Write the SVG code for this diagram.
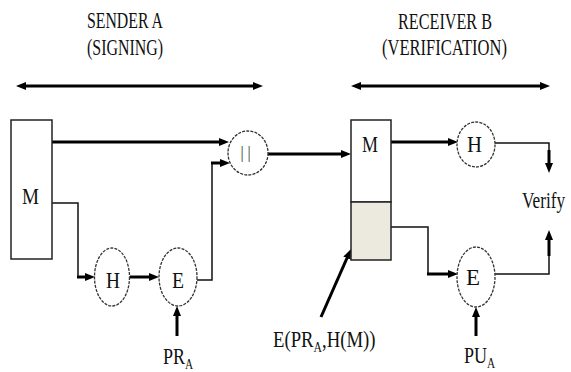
<svg xmlns="http://www.w3.org/2000/svg" width="571" height="372" viewBox="0 0 571 372">
<style>
.t{font-family:"Liberation Serif","Times New Roman",serif;font-size:24px;fill:#111;}
.box{fill:#fff;stroke:#222;stroke-width:1.5;}
.ell{fill:#fff;stroke:#333;stroke-width:1.3;stroke-dasharray:3 1.2;}
.thin{fill:none;stroke:#111;stroke-width:1.5;}
.thick{fill:none;stroke:#000;stroke-width:3;marker-end:url(#ah);}
</style>
<defs>
<marker id="ah" viewBox="0 0 10 8" markerWidth="10" markerHeight="8" refX="4" refY="4" orient="auto" markerUnits="userSpaceOnUse">
<path d="M0,0 L10,4 L0,8 z" fill="#000"/>
</marker>
<marker id="ahs" viewBox="0 0 10 8" markerWidth="10" markerHeight="8" refX="4" refY="4" orient="auto-start-reverse" markerUnits="userSpaceOnUse">
<path d="M0,0 L10,4 L0,8 z" fill="#000"/>
</marker>
</defs>
<rect width="571" height="372" fill="#fff"/>

<g id="headers">
<text class="t" x="87" y="28" textLength="76" lengthAdjust="spacingAndGlyphs">SENDER A</text>
<text class="t" x="87" y="55" textLength="76" lengthAdjust="spacingAndGlyphs">(SIGNING)</text>
<text class="t" x="398" y="29" textLength="94" lengthAdjust="spacingAndGlyphs">RECEIVER B</text>
<text class="t" x="382" y="55" textLength="125" lengthAdjust="spacingAndGlyphs">(VERIFICATION)</text>
</g>

<g id="connectors">
<line x1="22" y1="86" x2="257" y2="86" stroke="#000" stroke-width="3" marker-start="url(#ahs)" marker-end="url(#ahs)"/>
<line x1="357" y1="86" x2="544" y2="86" stroke="#000" stroke-width="3" marker-start="url(#ahs)" marker-end="url(#ahs)"/>
<path class="thick" d="M52,142 H223"/>
<path class="thin" d="M52,203 H78 V277"/>
<path class="thick" d="M77,277 H89"/>
<path class="thick" d="M130,277 H153"/>
<path class="thin" d="M197,280 H212 V163"/>
<path class="thick" d="M211,163 H224"/>
<path class="thick" d="M268,154 H345"/>
<path class="thick" d="M391,142 H452"/>
<path class="thin" d="M495,143 H549 V152"/>
<path class="thick" d="M549,150 V167"/>
<path class="thin" d="M391,227 H428 V274"/>
<path class="thick" d="M427,274 H452"/>
<path class="thin" d="M495,274 H549 V254"/>
<path class="thick" d="M549,256 V236"/>
<path class="thick" d="M177,336 V312"/>
<path class="thick" d="M476,336 V313"/>
<path class="thick" d="M321,317 L348.6,254.5"/>
</g>

<g id="sender-M">
<rect class="box" x="11" y="120" width="41" height="139"/>
<text class="t" x="22" y="204" textLength="17" lengthAdjust="spacingAndGlyphs">M</text>
</g>
<g id="sender-H">
<ellipse class="ell" cx="112" cy="277" rx="17.5" ry="29"/>
<text class="t" x="106" y="288" textLength="14" lengthAdjust="spacingAndGlyphs">H</text>
</g>
<g id="sender-E">
<ellipse class="ell" cx="178" cy="277" rx="19" ry="29"/>
<text class="t" x="172" y="288" textLength="12" lengthAdjust="spacingAndGlyphs">E</text>
</g>
<g id="concat">
<ellipse class="ell" cx="248" cy="153" rx="20" ry="22"/>
<text class="t" x="240.5 247.5" y="158" style="font-size:16px;fill:#333">||</text>
</g>
<g id="receiver-box">
<rect class="box" x="351" y="120" width="40" height="82"/>
<rect x="351" y="202" width="40" height="58" fill="#ECE9DE" stroke="#222" stroke-width="1.5"/>
<text class="t" x="362" y="152" textLength="16" lengthAdjust="spacingAndGlyphs">M</text>
</g>
<g id="receiver-H">
<ellipse class="ell" cx="476" cy="144.5" rx="19" ry="22.5"/>
<text class="t" x="467" y="152" textLength="15" lengthAdjust="spacingAndGlyphs">H</text>
</g>
<g id="receiver-E">
<ellipse class="ell" cx="476" cy="277" rx="19" ry="30"/>
<text class="t" x="466" y="285" textLength="14" lengthAdjust="spacingAndGlyphs">E</text>
</g>
<g id="verify">
<text class="t" transform="translate(522,208) scale(0.72,1)">Verify</text>
</g>
<g id="label-sig">
<text class="t" transform="translate(273,347) scale(0.78,1)">E(PR<tspan dy="5" style="font-size:15px">A</tspan><tspan dy="-5">,H(M))</tspan></text>
</g>
<g id="label-PRA">
<text class="t" transform="translate(163,364) scale(0.75,1)">PR<tspan dy="5" style="font-size:15px">A</tspan></text>
</g>
<g id="label-PUA">
<text class="t" transform="translate(464,363) scale(0.75,1)">PU<tspan dy="5" style="font-size:15px">A</tspan></text>
</g>
</svg>
